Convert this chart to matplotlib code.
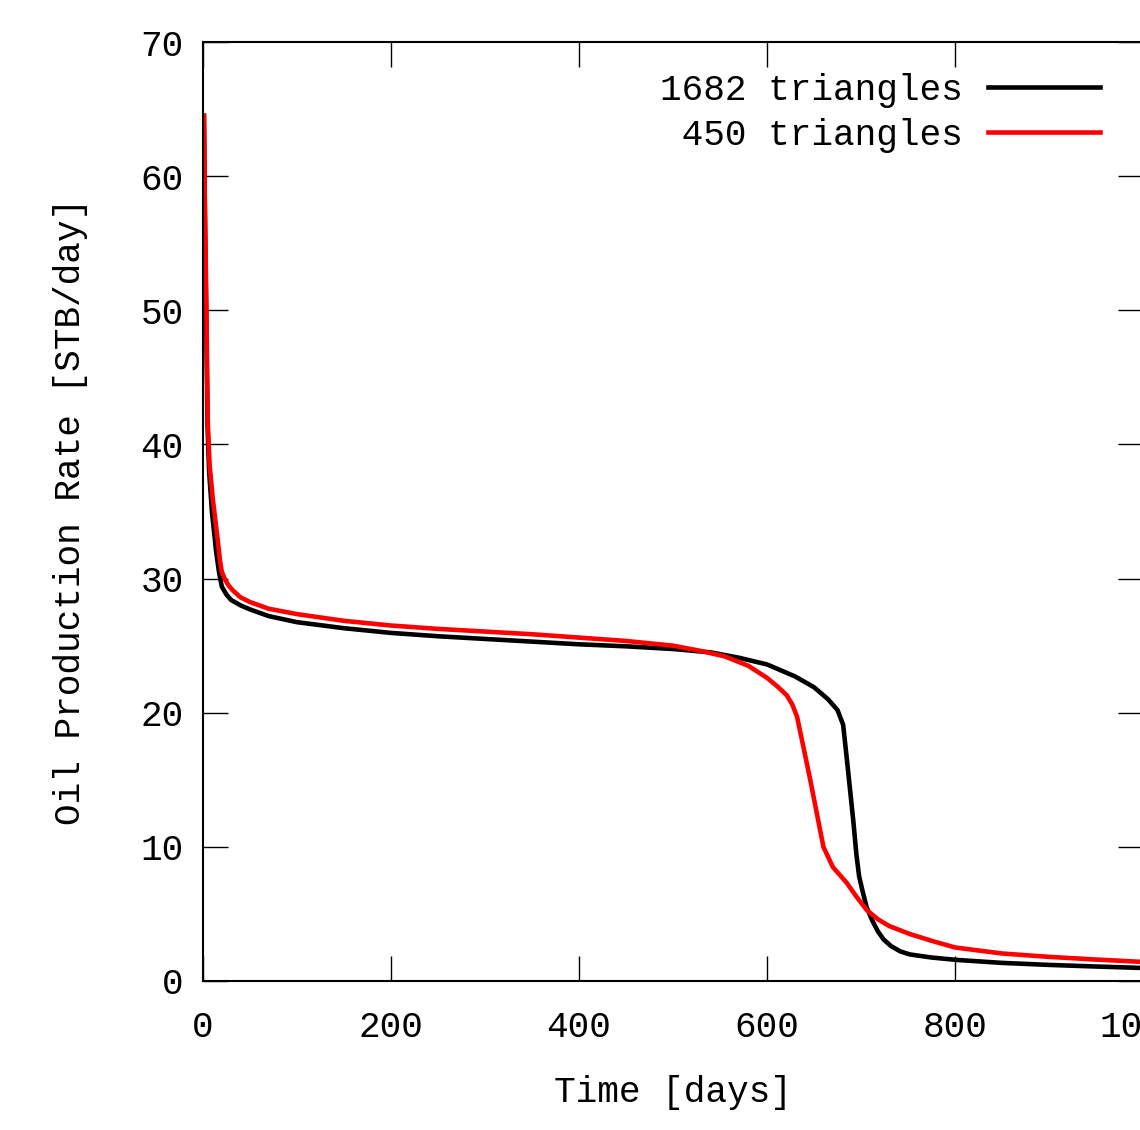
import matplotlib
matplotlib.use("Agg")
import matplotlib.pyplot as plt

# ======================================================
# DATA
# ======================================================
T_FINE = [1, 2, 3.3, 4.8, 6.5, 9.5, 14, 17, 20, 25, 30, 40, 50, 70, 100,
          150, 200, 250, 300, 350, 400, 450, 500, 540, 570, 600, 630, 650,
          665, 675, 681, 685, 688, 692, 695, 698, 702, 706, 712, 718, 724,
          732, 742, 752, 775, 802, 850, 900, 950, 1000]
Q_FINE = [64.5, 57, 50, 41.5, 38, 35, 32, 30.5, 29.4, 28.8, 28.4, 28.0,
          27.7, 27.2, 26.75, 26.3, 25.95, 25.7, 25.5, 25.3, 25.1, 24.95,
          24.75, 24.5, 24.1, 23.6, 22.7, 21.9, 21.0, 20.2, 19.1, 16.5, 14.5,
          11.8, 9.5, 7.8, 6.6, 5.5, 4.5, 3.7, 3.1, 2.6, 2.2, 1.98, 1.75,
          1.57, 1.35, 1.2, 1.08, 0.97]

T_COARSE = [1, 2, 3.5, 5, 7, 10.5, 15.6, 18, 20, 23, 27, 32, 40, 50, 70,
            100, 150, 200, 250, 300, 350, 400, 450, 500, 530, 555, 580, 600,
            612, 621, 627, 632, 646, 660, 670, 685, 695, 706, 718, 730, 752,
            775, 800, 850, 900, 950, 1000]
Q_COARSE = [64.5, 58, 50.8, 41.8, 38.5, 35.9, 32.9, 31.4, 30.5, 30.0, 29.5,
            29.1, 28.6, 28.25, 27.75, 27.35, 26.85, 26.5, 26.25, 26.05, 25.85,
            25.6, 25.35, 25.0, 24.6, 24.2, 23.5, 22.6, 21.9, 21.3, 20.6, 19.7,
            15.0, 10.0, 8.5, 7.3, 6.3, 5.3, 4.6, 4.1, 3.5, 3.0, 2.5, 2.05,
            1.8, 1.6, 1.42]

LABELS = ["1682 triangles", " 450 triangles"]
X_TICKS = [0, 200, 400, 600, 800, 1000]
Y_TICKS = [0, 10, 20, 30, 40, 50, 60, 70]

# ======================================================
# FIGURE
# ======================================================
plt.rcParams["font.family"] = ["Liberation Mono", "DejaVu Sans Mono"]
FS = 26

fig = plt.figure(figsize=(11.4, 11.3), dpi=100)
ax = fig.add_axes([203 / 1140, 149 / 1130, 940 / 1140, 939 / 1130])

ax.plot(T_FINE, Q_FINE, color="black", lw=3.3, label=LABELS[0])
ax.plot(T_COARSE, Q_COARSE, color="#ff0000", lw=3.3, label=LABELS[1])

ax.set_xlim(0, 1000)
ax.set_ylim(0, 70)
ax.set_xticks(X_TICKS)
ax.set_yticks(Y_TICKS)

ax.tick_params(direction="in", length=18, width=1.0, labelsize=FS,
               top=True, right=True)
ax.tick_params(axis="x", pad=21)
ax.tick_params(axis="y", pad=14)
for s in ax.spines.values():
    s.set_linewidth(1.5)

ax.set_xlabel("Time [days]", fontsize=FS)
ax.xaxis.set_label_coords(0.5, -(1093 - 981) / 939)
ax.xaxis.label.set_va("center")
ax.set_ylabel("Oil Production Rate [STB/day]", fontsize=FS)
ax.yaxis.set_label_coords(-(203 - 70) / 940, 0.5)
ax.yaxis.label.set_va("center")

ax.legend(loc="upper right", bbox_to_anchor=(1100 / 1140, 1 - 73 / 1130),
          bbox_transform=fig.transFigure, frameon=False, fontsize=FS,
          markerfirst=False, handlelength=3.1, handletextpad=0.7,
          labelspacing=0.27, borderpad=0, borderaxespad=0)

fig.savefig("out.png", dpi=100)
plt.close(fig)
